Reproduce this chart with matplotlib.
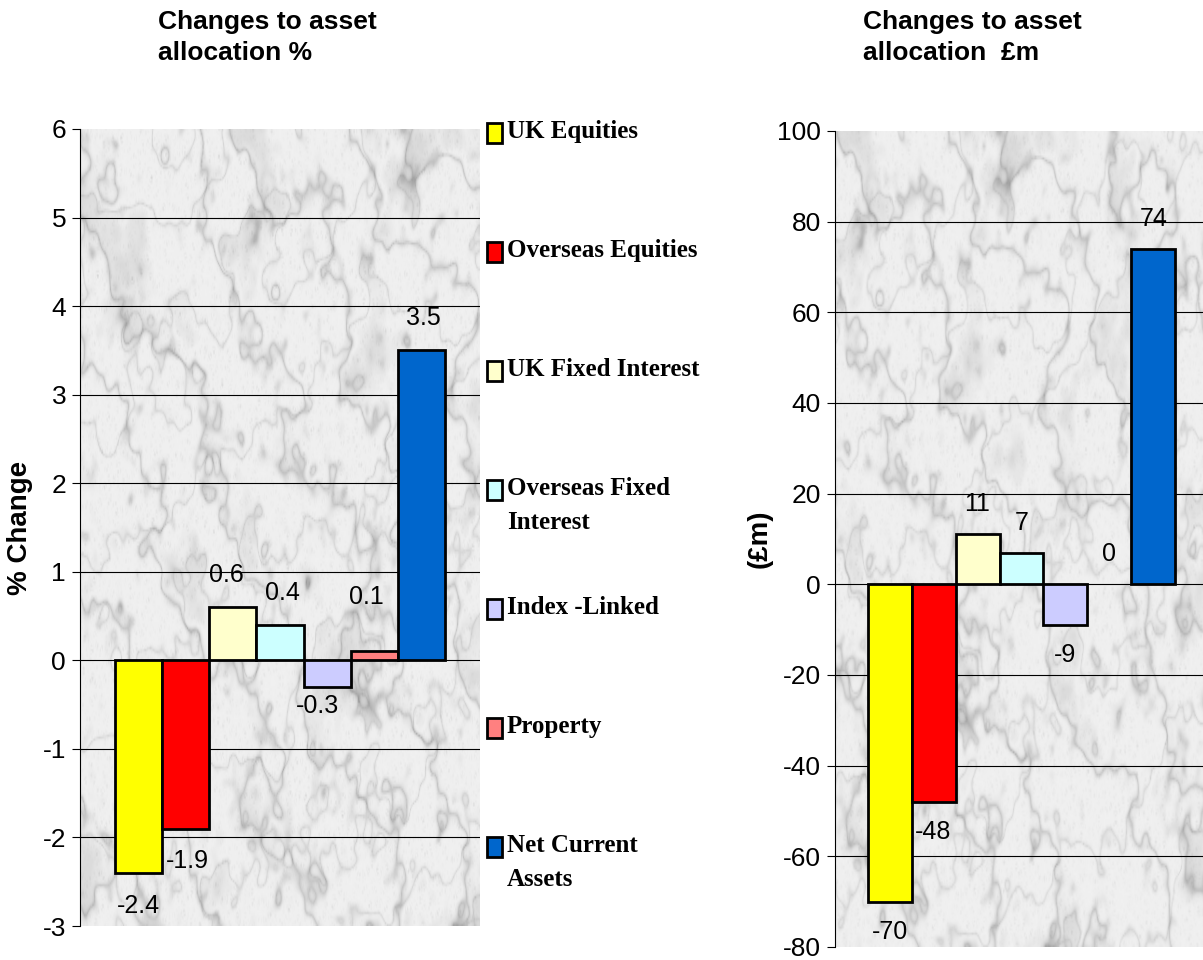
import matplotlib.pyplot as plt
import numpy as np
from matplotlib.patches import Rectangle

categories = ["UK Equities", "Overseas Equities", "UK Fixed Interest",
              "Overseas Fixed\nInterest", "Index -Linked", "Property",
              "Net Current\nAssets"]
pct_change = [-2.4, -1.9, 0.6, 0.4, -0.3, 0.1, 3.5]
gbp_change = [-70, -48, 11, 7, -9, 0, 74]
pct_ticks = list(range(-3, 7))
gbp_ticks = list(range(-80, 101, 20))

bar_colors = ["#FFFF00", "#FF0000", "#FFFFCC", "#CCFFFF", "#CCCCFF",
              "#FF8080", "#0066CC"]

# nudges for the value labels, in pixels (dx, dy)
pct_nudge = [(0, -33), (2, -32), (-6, 32), (2, 32), (-10, -19), (-8, 54), (2, 32)]
gbp_nudge = [(0, -30), (0, -30), (0, 30), (0, 30), (0, -30), (0, 30), (0, 30)]

plt.rcParams["font.family"] = ["Liberation Sans", "DejaVu Sans"]
plt.rcParams["axes.unicode_minus"] = False

W, H = 1203, 960


def wave_noise(x, y, f, phase):
    # interference of plane waves in several directions -> blotchy field
    out = np.zeros_like(x)
    for j in range(7):
        th = phase + j * np.pi / 7 * 1.13
        out += np.sin(2 * np.pi * f * (np.cos(th) * x + np.sin(th) * y)
                      + 1.7 * j + phase)
    return out / np.sqrt(7)


def marble(h=400, w=400, shift=0.0):
    # light grey marble backdrop: soft patches, diagonal veins, speckle
    y, x = np.mgrid[0:1:h * 1j, 0:1:w * 1j]
    x = x + shift
    n = (wave_noise(x, y, 3.0, 0.3) + 0.6 * wave_noise(x, y, 7.0, 1.1)
         + 0.35 * wave_noise(x, y, 15.0, 2.3) + 0.2 * wave_noise(x, y, 31.0, 0.7))
    fine = wave_noise(x, y, 90.0, 1.9) * wave_noise(x, y, 47.0, 0.4)
    veins = np.abs(np.sin(2 * np.pi * (2.2 * x - 1.8 * y) + 0.9 * n))
    veins2 = np.abs(np.sin(2 * np.pi * (1.2 * x + 2.6 * y) + 1.1 * n))
    patch = np.clip((n - 0.6) / 1.4, 0, 1)
    g = (0.94 - 0.16 * (1 - veins) ** 5 - 0.10 * (1 - veins2) ** 7
         - 0.08 * patch - 0.02 * np.abs(fine))
    return np.clip(g, 0.6, 0.96)


def draw_panel(ax, values, ticks, nudges, ylabel, label_x, tex_shift):
    x = np.arange(len(values))
    ax.imshow(marble(shift=tex_shift), cmap="gray", vmin=0, vmax=1,
              extent=(0, 1, 0, 1), transform=ax.transAxes, aspect="auto",
              interpolation="bilinear", zorder=0)
    lws = [2.0 if v != 0 else 0 for v in values]
    ax.bar(x, values, width=1.0, color=bar_colors, edgecolor="black",
           linewidth=lws, zorder=3)
    for i, v in enumerate(values):
        dx, dy = nudges[i]
        ax.annotate(f"{v:g}", xy=(i, v), xytext=(dx, dy),
                    textcoords="offset pixels", ha="center", va="center",
                    fontsize=18, zorder=4)
    span = 8.48
    ax.set_xlim(3 - span / 2, 3 + span / 2)
    ax.set_ylim(ticks[0], ticks[-1])
    ax.set_yticks(ticks)
    ax.set_xticks([])
    ax.tick_params(axis="y", labelsize=19, length=6, width=0.8, pad=4,
                   direction="out")
    ax.yaxis.grid(True, color="black", linewidth=0.8, zorder=1)
    gl = ax.yaxis.get_gridlines()
    gl[0].set_visible(False)
    gl[-1].set_visible(False)
    for side in ("top", "right", "bottom"):
        ax.spines[side].set_visible(False)
    ax.spines["left"].set_linewidth(0.8)
    ax.spines["left"].set_zorder(5)
    ax.set_ylabel(ylabel, fontsize=20, fontweight="bold")
    ax.yaxis.set_label_coords(label_x, 0.5)


fig = plt.figure(figsize=(W / 100, H / 100), dpi=100)

ax1 = fig.add_axes([80 / W, (H - 926) / H, 400 / W, 797 / H])
draw_panel(ax1, pct_change, pct_ticks, pct_nudge, "% Change", -0.118, 0.0)

ax2 = fig.add_axes([835 / W, (H - 947) / H, 373 / W, 816 / H])
draw_panel(ax2, gbp_change, gbp_ticks, gbp_nudge, "(£m)", -0.166, 0.37)

fig.text(158 / W, 1 - 10 / H, "Changes to asset\nallocation %",
         fontsize=19, fontweight="bold", ha="left", va="top", linespacing=1.35)
fig.text(863 / W, 1 - 10 / H, "Changes to asset\nallocation  £m",
         fontsize=19, fontweight="bold", ha="left", va="top", linespacing=1.35)

# legend column between the two panels
for i, (name, col) in enumerate(zip(categories, bar_colors)):
    yc = 133 + 119 * i
    fig.add_artist(Rectangle((487 / W, 1 - (yc + 10) / H), 15 / W, 20 / H,
                             facecolor=col, edgecolor="black", linewidth=2,
                             transform=fig.transFigure))
    fig.text(507 / W, 1 - (yc - 13) / H, name, fontsize=18,
             fontweight="bold", family=["Liberation Serif", "DejaVu Serif"],
             ha="left", va="top", linespacing=1.6)

fig.savefig("out.png", dpi=100)
